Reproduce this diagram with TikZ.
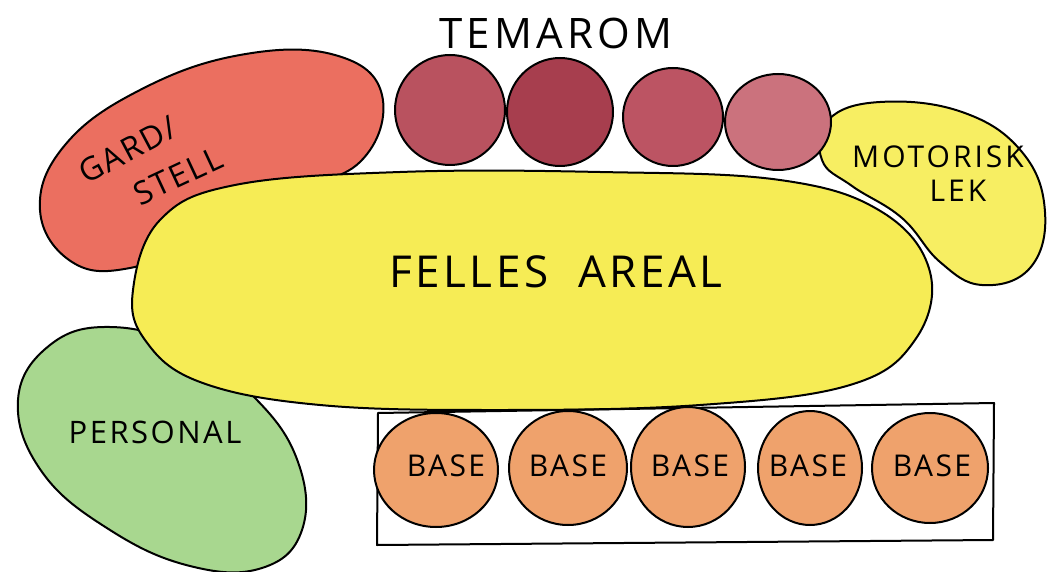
\documentclass[tikz,border=0pt]{standalone}
\usepackage{fontspec}
\setmainfont{Open Sans}
\definecolor{redfill}{HTML}{EB6F60}
\definecolor{tema1}{HTML}{B9525F}
\definecolor{tema2}{HTML}{A73E4E}
\definecolor{tema3}{HTML}{BC5463}
\definecolor{tema4}{HTML}{CB727D}
\definecolor{yel}{HTML}{F6EC55}
\definecolor{yel2}{HTML}{F7EE62}
\definecolor{grn}{HTML}{A8D78F}
\definecolor{org}{HTML}{EFA26C}
\tikzset{
  outline/.style={draw=black, line width=2pt, line join=round},
  lbl/.style={text=black, inner sep=0pt, align=center},
}
\newcommand{\spaced}[1]{\addfontfeature{LetterSpace=#1}}
\begin{document}
\begin{tikzpicture}[x=1pt,y=-1pt]
\useasboundingbox (0,0) rectangle (1049,572);
% Gard/stell
\path[fill=redfill, outline] plot[smooth cycle, tension=0.7] coordinates {(382,95) (335,55) (240,55) (140,90) (65,145) (40,210) (72,262) (130,268) (200,238) (280,195) (360,162)};
% Personal
\path[fill=grn, outline] plot[smooth cycle, tension=0.7] coordinates {(18,400) (50,345) (110,327) (185,347) (255,398) (298,462) (302,530) (262,568) (190,566) (110,530) (42,472)};
% Motorisk lek
\path[fill=yel2, outline] plot[smooth cycle, tension=0.7] coordinates {(828,120) (880,102) (962,112) (1022,152) (1045,212) (1030,268) (982,285) (940,262) (902,218) (852,186) (822,160)};
% Felles areal
\path[fill=yel, outline] plot[smooth cycle, tension=0.65] coordinates {(133,290) (160,220) (235,185) (400,172) (600,172) (780,180) (882,212) (930,272) (915,340) (850,385) (700,405) (500,410) (320,405) (200,382) (145,340)};
% Temarom circles
\path[fill=tema1, outline] (450,110) ellipse [x radius=55, y radius=55];
\path[fill=tema2, outline] (560,112) ellipse [x radius=53, y radius=54];
\path[fill=tema3, outline] (673,117) ellipse [x radius=50, y radius=49];
\path[fill=tema4, outline] (778,122) ellipse [x radius=53, y radius=48];
% Base box
\path[outline] (378,413) -- (994,403) -- (993,540) -- (377,545) -- cycle;
\path[fill=org, outline] (436,470) ellipse [x radius=62, y radius=57];
\path[fill=org, outline] (568,468) ellipse [x radius=59, y radius=57];
\path[fill=org, outline] (688,467) ellipse [x radius=57, y radius=60];
\path[fill=org, outline] (810,468) ellipse [x radius=52, y radius=57];
\path[fill=org, outline] (930,468) ellipse [x radius=58, y radius=55];
% Labels
\node[lbl, font=\fontsize{42}{42}\selectfont\spaced{10}] (tema) at (556,33) {TEMAROM};
\node[lbl, font=\fontsize{44}{44}\selectfont\spaced{8}] (felles) at (556,272) {FELLES\ \ AREAL};
\node[lbl, font=\fontsize{32}{32}\selectfont\spaced{6}, rotate=28] (gard) at (128,150) {GARD/};
\node[lbl, font=\fontsize{32}{32}\selectfont\spaced{6}, rotate=25] (stell) at (178,176) {STELL};
\node[lbl, font=\fontsize{30}{30}\selectfont\spaced{10}] (motor) at (938,157) {MOTORISK};
\node[lbl, font=\fontsize{30}{30}\selectfont\spaced{10}] (lek) at (958,191) {LEK};
\node[lbl, font=\fontsize{31}{31}\selectfont\spaced{8}] (pers) at (155,432) {PERSONAL};
\foreach \x/\n in {446/b1,568/b2,690/b3,808/b4,932/b5}
  \node[lbl, font=\fontsize{30}{30}\selectfont\spaced{8}] (\n) at (\x,466) {BASE};
\end{tikzpicture}
\end{document}
